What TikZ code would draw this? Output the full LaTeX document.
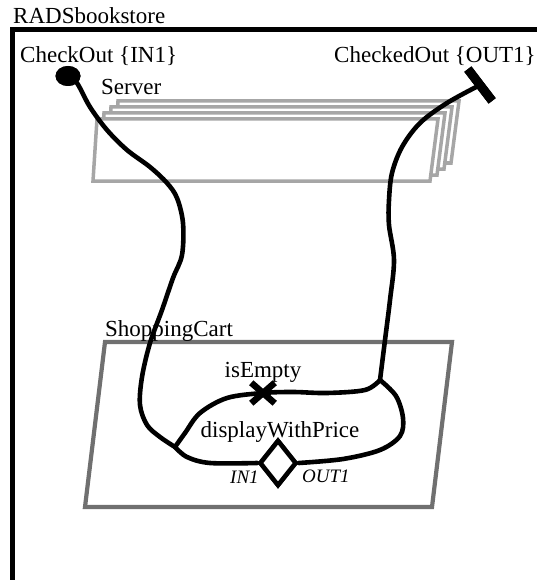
\documentclass[tikz,border=0pt]{standalone}
\usepackage{fontspec}
\setmainfont{Liberation Serif}
\usetikzlibrary{shapes.geometric,shapes.misc}
\definecolor{srvgray}{HTML}{A6A6A6}
\definecolor{cartgray}{HTML}{707070}
\tikzset{
  lbl/.style={inner sep=0pt, anchor=base west, font=\fontsize{23}{27}\selectfont},
  clbl/.style={inner sep=0pt, anchor=base, font=\fontsize{23}{27}\selectfont},
  ilbl/.style={inner sep=0pt, anchor=base west, font=\fontsize{19}{23}\selectfont\itshape},
  wire/.style={line width=4.6pt, black, line join=round, line cap=round},
  srv/.style={draw=srvgray, fill=white, line width=3.5pt},
  cart/.style={draw=cartgray, line width=4.2pt},
  endpt/.style={ellipse, fill=black, minimum width=25pt, minimum height=20pt, inner sep=0pt},
  tbar/.style={rectangle, fill=black, minimum width=40pt, minimum height=9pt, inner sep=0pt, rotate=-52.6},
  dmd/.style={diamond, draw, line width=4.5pt, fill=white, minimum width=37pt, minimum height=46pt, inner sep=0pt},
}
\begin{document}
\begin{tikzpicture}[x=1pt,y=-1pt]
\useasboundingbox (0,0) rectangle (537,580);
% outer frame
\coordinate (ftl) at (12.5,30);
\coordinate (ftr) at (537,30);
\coordinate (fbl) at (12.5,580);
\draw[line width=5pt] (ftr) -- (ftl) -- (fbl);
\node[lbl] (rads) at (13,24) {RADSbookstore};

% server stack
\foreach \k in {3,2,1,0}{
  \draw[srv, shift={(7*\k,-6*\k)}] (97,119) -- (438,119) -- (430,181) -- (93,181) -- cycle;
}
\node[lbl] (srvlbl) at (101,95) {Server};

% shopping cart
\draw[cart] (105,342) -- (452,342) -- (432,507) -- (85,507) -- cycle;
\node[lbl] (cartlbl) at (105,336) {ShoppingCart};

% labels
\node[lbl] (colbl) at (20,63) {CheckOut \{IN1\}};
\node[lbl] (cdlbl) at (334,63) {CheckedOut \{OUT1\}};
\node[clbl] (ielbl) at (263,377) {isEmpty};
\node[clbl] (dwlbl) at (280,437) {displayWithPrice};
\node[ilbl] (inlbl) at (230,483) {IN1};
\node[ilbl] (outlbl) at (302,482) {OUT1};

% endpoints
\node[endpt] (checkout) at (68,76) {};
\node[tbar] (checkedout) at (480,85) {};
\node[dmd] (dwp) at (278,463) {};

\coordinate (jl) at (175,447);
\coordinate (jr) at (380,380);
\coordinate (xe) at (263,393);

% wires
\draw[wire] plot[smooth, tension=0.55] coordinates {(checkout.center) (77,83) (90,107) (107,130) (127,150) (150,167) (167,183) (177,198) (183,223) (182,255) (173,278) (162,310) (150,343) (142,377) (140,405) (147,425) (160,437) (jl)};
\draw[wire] plot[smooth, tension=0.55] coordinates {(checkedout.center) (447,103) (420,123) (402,147) (392,173) (389,200) (389,225) (394,260) (390,300) (385,340) (jr)};
\draw[wire] plot[smooth, tension=0.55] coordinates {(jl) (185,433) (200,413) (227,398) (xe) (293,392) (327,393) (365,390) (jr)};
\draw[wire] plot[smooth, tension=0.55] coordinates {(jl) (187,457) (210,463) (dwp.west)};
\draw[wire] plot[smooth, tension=0.55] coordinates {(jr) (396,396) (403,418) (400,436) (380,450) (343,459) (dwp.east)};

% redraw endpoints on top
\node[endpt] at (checkout.center) {};
\node[tbar] at (checkedout.center) {};
\node[dmd] at (dwp.center) {};
\node[cross out, draw, line width=6.5pt, minimum width=17pt, minimum height=14pt, inner sep=0pt] (isempty) at (xe) {};
\end{tikzpicture}
\end{document}
